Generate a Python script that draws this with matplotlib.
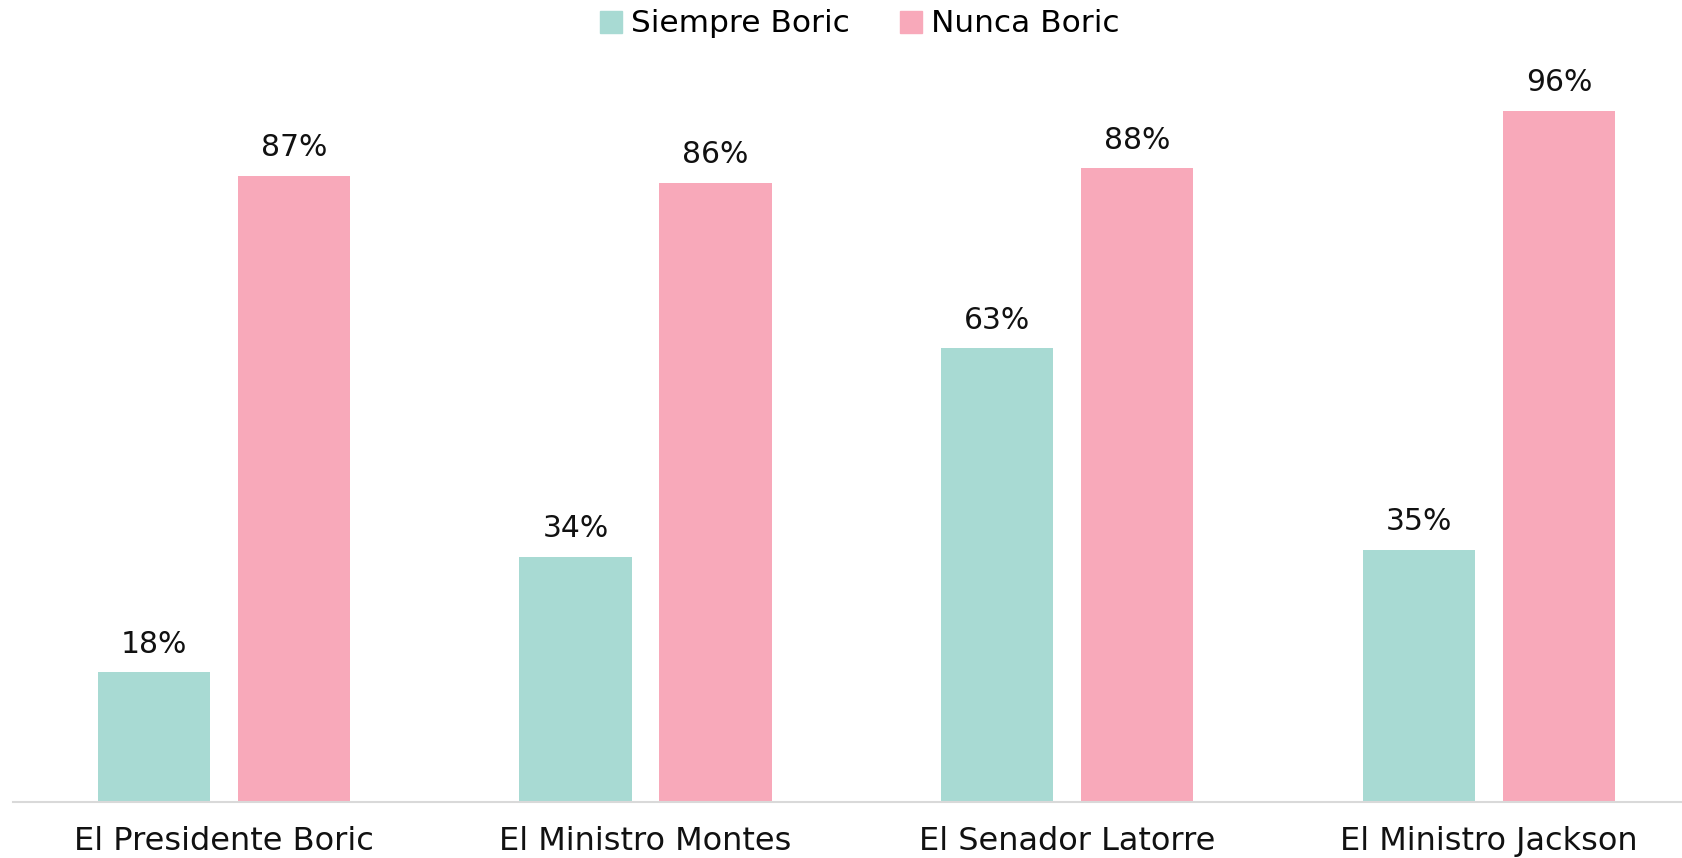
import numpy as np
import matplotlib
matplotlib.use("Agg")
import matplotlib.pyplot as plt
from matplotlib.patches import Patch

plt.rcParams['font.family'] = ['DejaVu Sans']

categories = ['El Presidente Boric', 'El Ministro Montes', 'El Senador Latorre', 'El Ministro Jackson']
siempre = [18, 34, 63, 35]
nunca = [87, 86, 88, 96]
series_names = ['Siempre Boric', 'Nunca Boric']

teal = '#A8DAD3'
pink = '#F8A9BA'

fig = plt.figure(figsize=(16.83, 8.58), dpi=100)
ax = fig.add_axes([13 / 1683, 56 / 858, 1 - 13 / 1683, 720 / 858])

x = np.arange(len(categories))
w = 0.266
off = 0.166
b1 = ax.bar(x - off, siempre, w, color=teal)
b2 = ax.bar(x + off, nunca, w, color=pink)

for bars, vals in [(b1, siempre), (b2, nunca)]:
    for b, v in zip(bars, vals):
        ax.annotate(f"{v}%", (b.get_x() + b.get_width() / 2, v),
                    xytext=(0, 10), textcoords='offset points',
                    ha='center', va='bottom', fontsize=21.5, color='#111111')

ax.set_xlim(-0.5, 3.46)
ax.set_ylim(0, 100)
ax.set_xticks(x)
ax.set_xticklabels(categories, fontsize=23, color='#111111')
ax.tick_params(axis='x', length=0, pad=17)
ax.set_yticks([])
for s in ['top', 'right', 'left']:
    ax.spines[s].set_visible(False)
ax.spines['bottom'].set_color('#D9D9D9')
ax.spines['bottom'].set_linewidth(1.5)

handles = [Patch(color=teal), Patch(color=pink)]
fig.legend(handles, series_names, loc='center', bbox_to_anchor=(860 / 1683, 1 - 24 / 858),
           ncol=2, frameon=False, fontsize=22.5, handlelength=0.7, handleheight=0.7,
           handletextpad=0.3, columnspacing=1.6)

fig.savefig('out.png', dpi=100)
